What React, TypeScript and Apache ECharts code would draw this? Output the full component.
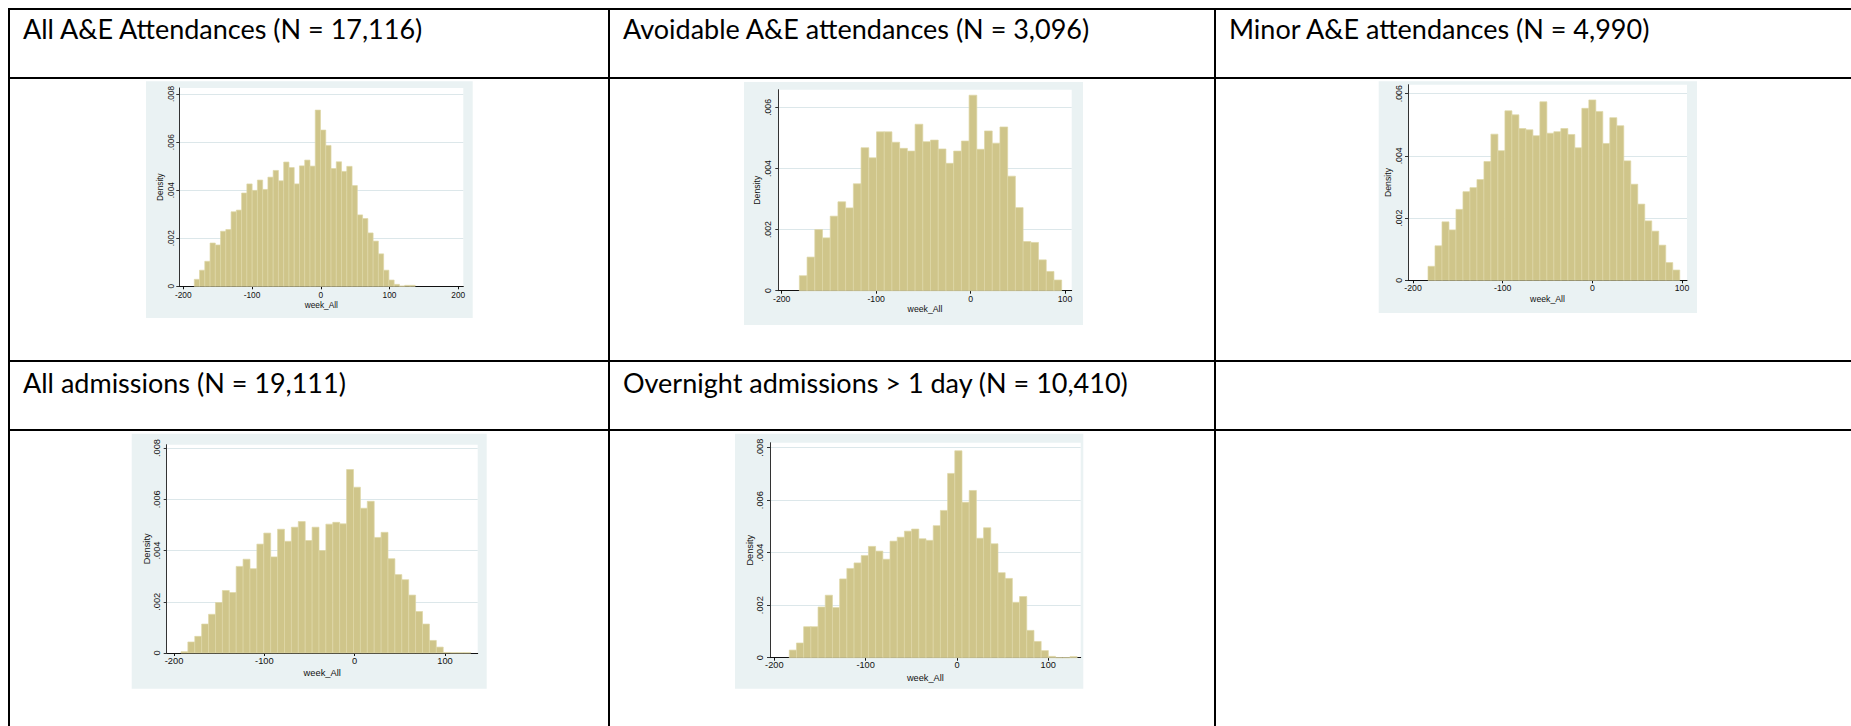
import { useEffect, useRef } from 'react';
import * as echarts from 'echarts';

// ---------- table text ----------
const headerRow1 = [
  'All A&E Attendances (N = 17,116)',
  'Avoidable A&E attendances (N = 3,096)',
  'Minor A&E attendances (N = 4,990)',
];
const headerRow2 = ['All admissions (N = 19,111)', 'Overnight admissions > 1 day (N = 10,410)'];

// ---------- axis ticks ----------
const xTicksTo200 = [-200, -100, 0, 100, 200];
const xTicksTo100 = [-200, -100, 0, 100];
const yTicksTo008 = [0, 0.002, 0.004, 0.006, 0.008];
const yTicksTo006 = [0, 0.002, 0.004, 0.006];
const xTitle = 'week_All';
const yTitle = 'Density';

// ---------- histogram data (bin start, bin width, densities) ----------
const allAEStart = -184;
const allAEWidth = 7.65;
const allAEDensity = [
  0.00029, 0.00067, 0.00104, 0.0018, 0.00172, 0.00229, 0.00236, 0.0031, 0.00317, 0.00388,
  0.00426, 0.00399, 0.00442, 0.00403, 0.00454, 0.00482, 0.00439, 0.00517, 0.00494, 0.00426,
  0.00501, 0.00525, 0.005, 0.00733, 0.0065, 0.00586, 0.0049, 0.00518, 0.00478, 0.00499,
  0.00419, 0.00297, 0.00282, 0.00222, 0.00188, 0.00135, 0.00067, 0.00026, 0.00008, 0.00001,
  0.00004, 0.00004,
];

const avoidStart = -181.3;
const avoidWidth = 8.17;
const avoidDensity = [
  0.00049, 0.0011, 0.002, 0.00173, 0.00244, 0.00291, 0.00271, 0.0035, 0.00468, 0.00435,
  0.0052, 0.0052, 0.00486, 0.00466, 0.00457, 0.00545, 0.00488, 0.00493, 0.00464, 0.00417,
  0.00457, 0.0049, 0.0064, 0.00463, 0.00523, 0.00483, 0.00536, 0.00375, 0.00272, 0.00161,
  0.00158, 0.00101, 0.00063, 0.00035,
];

const minorStart = -183.3;
const minorWidth = 7.8;
const minorDensity = [
  0.00045, 0.00111, 0.00188, 0.00162, 0.00228, 0.00285, 0.00298, 0.00324, 0.00382, 0.0047,
  0.00417, 0.00545, 0.00532, 0.00488, 0.00484, 0.00465, 0.00574, 0.00473, 0.00478, 0.00488,
  0.00469, 0.00426, 0.00553, 0.0058, 0.00543, 0.0044, 0.00523, 0.00497, 0.00384, 0.00309,
  0.00245, 0.00191, 0.00158, 0.00113, 0.00057, 0.00033,
];

const admStart = -192.3;
const admWidth = 7.64;
const admDensity = [
  0.00005, 0.00043, 0.00065, 0.00113, 0.00151, 0.00197, 0.00244, 0.00236, 0.00338, 0.00366,
  0.00329, 0.00425, 0.00468, 0.00375, 0.00483, 0.00436, 0.00491, 0.00513, 0.00439, 0.00491,
  0.004, 0.00503, 0.0051, 0.00504, 0.00716, 0.00647, 0.00565, 0.00592, 0.00451, 0.00471,
  0.00368, 0.00306, 0.00286, 0.00226, 0.00162, 0.00113, 0.00049, 0.00023, 0.00002, 0.00001,
  0.00001, 0.00001,
];

const overStart = -183.6;
const overWidth = 7.88;
const overDensity = [
  0.00029, 0.00056, 0.00118, 0.00118, 0.00193, 0.00238, 0.00191, 0.003, 0.0034, 0.00361,
  0.00389, 0.00424, 0.00406, 0.00375, 0.00444, 0.00459, 0.00482, 0.0049, 0.00453, 0.00447,
  0.00503, 0.00561, 0.00702, 0.00788, 0.00592, 0.00637, 0.00455, 0.00495, 0.00434, 0.00324,
  0.00302, 0.00211, 0.00233, 0.00104, 0.00062, 0.00027, 0.00005, 0.0, 0.0, 0.00004,
];

// ---------- styles ----------
const PANEL_BG = '#EAF2F3';
const GRID_LINE = '#DCE7EA';
const BAR_FILL = '#CFC58A';
const BAR_EDGE = '#DED7A6';
const TABLE_LINE = '#000000';
const HEADER_FONT = 'Lato';
const AXIS_FONT = 'Liberation Sans';

type Panel = {
  bg: [number, number, number, number];
  grid: { left: number; top: number; width: number; height: number };
  xMin: number;
  xMax: number;
  yMax: number;
  xTicks: number[];
  yTicks: number[];
  font: number;
  xLabelMargin: number;
  xNameGap: number;
  yLabelMargin: number;
  yNameGap: number;
  start: number;
  width: number;
  density: number[];
};

const panels: Panel[] = [
  {
    bg: [146, 81.3, 326.7, 236.7],
    grid: { left: 179.3, top: 88, width: 284, height: 198.3 },
    xMin: -205.8, xMax: 207.3, yMax: 0.00825,
    xTicks: xTicksTo200, yTicks: yTicksTo008, font: 8.3,
    xLabelMargin: 4.5, xNameGap: 15, yLabelMargin: 4, yNameGap: 15,
    start: allAEStart, width: allAEWidth, density: allAEDensity,
  },
  {
    bg: [744, 82, 339, 243],
    grid: { left: 778.3, top: 89.7, width: 293.4, height: 201 },
    xMin: -203.6, xMax: 107.1, yMax: 0.00658,
    xTicks: xTicksTo100, yTicks: yTicksTo006, font: 8.7,
    xLabelMargin: 4, xNameGap: 13.5, yLabelMargin: 6, yNameGap: 17,
    start: avoidStart, width: avoidWidth, density: avoidDensity,
  },
  {
    bg: [1378.7, 81.3, 318.3, 231.7],
    grid: { left: 1408, top: 84.7, width: 279, height: 195.6 },
    xMin: -205.6, xMax: 105.6, yMax: 0.00629,
    xTicks: xTicksTo100, yTicks: yTicksTo006, font: 8.7,
    xLabelMargin: 3, xNameGap: 14, yLabelMargin: 5, yNameGap: 15.5,
    start: minorStart, width: minorWidth, density: minorDensity,
  },
  {
    bg: [131.7, 433.7, 355, 255],
    grid: { left: 166.7, top: 444.7, width: 311, height: 208.3 },
    xMin: -208.1, xMax: 136.2, yMax: 0.00813,
    xTicks: xTicksTo100, yTicks: yTicksTo008, font: 9.3,
    xLabelMargin: 3.5, xNameGap: 15, yLabelMargin: 5, yNameGap: 15,
    start: admStart, width: admWidth, density: admDensity,
  },
  {
    bg: [735, 433.7, 348.3, 255],
    grid: { left: 770, top: 442.7, width: 310.7, height: 215 },
    xMin: -204.7, xMax: 135.5, yMax: 0.00819,
    xTicks: xTicksTo100, yTicks: yTicksTo008, font: 9.2,
    xLabelMargin: 3, xNameGap: 15.5, yLabelMargin: 6, yNameGap: 15.5,
    start: overStart, width: overWidth, density: overDensity,
  },
];

const fmtY = (v: number) => (v === 0 ? '0' : '.' + String(Math.round(v * 1000)).padStart(3, '0'));

function buildOption() {
  const grids: any[] = [];
  const xAxes: any[] = [];
  const yAxes: any[] = [];
  const series: any[] = [];
  const graphics: any[] = [];

  panels.forEach((p, i) => {
    graphics.push({
      type: 'rect',
      z: -10,
      shape: { x: p.bg[0], y: p.bg[1], width: p.bg[2], height: p.bg[3] },
      style: { fill: PANEL_BG },
      silent: true,
    });
    grids.push({
      left: p.grid.left,
      top: p.grid.top,
      width: p.grid.width,
      height: p.grid.height,
      show: true,
      backgroundColor: '#ffffff',
      borderWidth: 0,
      containLabel: false,
    });
    xAxes.push({
      type: 'value',
      gridIndex: i,
      min: p.xMin,
      max: p.xMax,
      name: xTitle,
      nameLocation: 'middle',
      nameGap: p.xNameGap,
      nameTextStyle: { fontFamily: AXIS_FONT, fontSize: p.font, color: '#111' },
      axisLine: { show: true, onZero: false, lineStyle: { color: '#111', width: 1 } },
      axisTick: { show: true, length: 3, customValues: p.xTicks, lineStyle: { color: '#111' } },
      axisLabel: {
        customValues: p.xTicks,
        margin: p.xLabelMargin,
        fontFamily: AXIS_FONT,
        fontSize: p.font,
        color: '#111',
        formatter: (v: number) => String(v),
      },
      splitLine: { show: false },
    });
    yAxes.push({
      type: 'value',
      gridIndex: i,
      min: 0,
      max: p.yMax,
      name: yTitle,
      nameLocation: 'middle',
      nameRotate: 90,
      nameGap: p.yNameGap,
      nameTextStyle: { fontFamily: AXIS_FONT, fontSize: p.font, color: '#111' },
      axisLine: { show: true, onZero: false, lineStyle: { color: '#333', width: 1 } },
      axisTick: { show: true, length: 3, customValues: p.yTicks, lineStyle: { color: '#333' } },
      axisLabel: {
        customValues: p.yTicks,
        rotate: 90,
        margin: p.yLabelMargin,
        fontFamily: AXIS_FONT,
        fontSize: p.font,
        color: '#111',
        formatter: fmtY,
      },
      splitLine: { show: true, lineStyle: { color: GRID_LINE, width: 1 } },
    });
    const data = p.density.map((d, k) => [p.start + k * p.width, p.start + (k + 1) * p.width, d]);
    series.push({
      type: 'custom',
      xAxisIndex: i,
      yAxisIndex: i,
      data,
      encode: { x: [0, 1], y: 2 },
      renderItem: (_params: any, api: any) => {
        const a = api.coord([api.value(0), api.value(2)]);
        const b = api.coord([api.value(1), 0]);
        return {
          type: 'rect',
          shape: { x: a[0], y: a[1], width: b[0] - a[0], height: b[1] - a[1] },
          style: { fill: BAR_FILL, stroke: BAR_EDGE, lineWidth: 0.7 },
        };
      },
    });
  });

  // table lines
  const hLines = [9, 78, 361, 430];
  const vLines = [9, 609, 1215];
  hLines.forEach((y) =>
    graphics.push({
      type: 'line',
      shape: { x1: 8, y1: y, x2: 1851, y2: y },
      style: { stroke: TABLE_LINE, lineWidth: 2 },
      silent: true,
    })
  );
  vLines.forEach((x) =>
    graphics.push({
      type: 'line',
      shape: { x1: x, y1: 8, x2: x, y2: 726 },
      style: { stroke: TABLE_LINE, lineWidth: 2 },
      silent: true,
    })
  );

  const colX = [23, 623, 1229];
  headerRow1.forEach((t, i) =>
    graphics.push({
      type: 'text',
      x: colX[i],
      y: 28,
      style: { text: t, fontFamily: HEADER_FONT, fontSize: 27, fill: '#000', verticalAlign: 'middle', align: 'left' },
      silent: true,
    })
  );
  headerRow2.forEach((t, i) =>
    graphics.push({
      type: 'text',
      x: colX[i],
      y: 382,
      style: { text: t, fontFamily: HEADER_FONT, fontSize: 27, fill: '#000', verticalAlign: 'middle', align: 'left' },
      silent: true,
    })
  );

  return {
    animation: false,
    backgroundColor: '#ffffff',
    grid: grids,
    xAxis: xAxes,
    yAxis: yAxes,
    series,
    graphic: { elements: graphics },
  };
}

export default function App() {
  const ref = useRef<HTMLDivElement>(null);
  useEffect(() => {
    if (!ref.current) return;
    const chart = echarts.init(ref.current, undefined, { renderer: 'svg' });
    chart.setOption(buildOption() as any);
    return () => chart.dispose();
  }, []);
  return (
    <div
      ref={ref}
      style={{ position: 'absolute', left: 0, top: 0, width: 1851, height: 726, background: '#fff' }}
    />
  );
}
